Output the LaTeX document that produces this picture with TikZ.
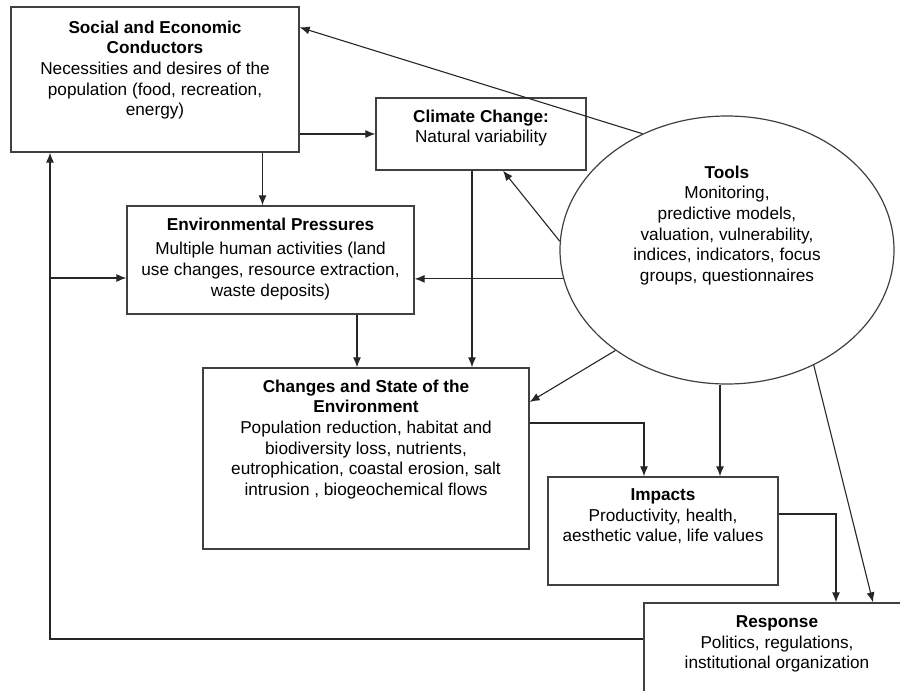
\documentclass[tikz,border=0pt]{standalone}
\usepackage{fontspec}
\setmainfont{Liberation Sans}
\usetikzlibrary{arrows.meta,shapes.geometric}

\begin{document}
\begin{tikzpicture}[
      x=1pt, y=-1pt,
      >={Latex[length=10pt,width=8pt]},
      box/.style={rectangle, draw=black!75, line width=1.3pt, inner sep=0pt},
      tool/.style={ellipse, draw=black!75, line width=1.2pt, inner sep=0pt},
      txt/.style={anchor=north, align=center, inner sep=0pt, font=\fontsize{17.2}{20.7}\selectfont},
      link/.style={->, draw=black!85, line width=1.1pt}
    ]
      \useasboundingbox (0,0) rectangle (900,691);
      \clip (0,0) rectangle (900,691);

      % Social and Economic Conductors
      \node[box, minimum width=288, minimum height=145] (social) at (155,79.5) {};
      \node[txt] (social_txt) at ([yshift=-14pt]social.north) {\textbf{Social and Economic}\\\textbf{Conductors}\\Necessities and desires of the\\population (food, recreation,\\energy)};

      % Climate Change
      \node[box, minimum width=210, minimum height=72] (climate) at (481,134) {};
      \node[txt] (climate_txt) at ([yshift=-12pt]climate.north) {\textbf{Climate Change:}\\Natural variability};

      % Environmental Pressures
      \node[box, minimum width=287, minimum height=108] (env_press) at (270.5,260) {};
      \node[txt] (env_press_txt) at ([yshift=-12pt]env_press.north) {\textbf{Environmental Pressures}\\[4pt]Multiple human activities (land\\use changes, resource extraction,\\waste deposits)};

      % Changes and State of the Environment
      \node[box, minimum width=326, minimum height=181] (changes) at (366,458.5) {};
      \node[txt] (changes_txt) at ([yshift=-12pt]changes.north) {\textbf{Changes and State of the}\\\textbf{Environment}\\Population reduction, habitat and\\biodiversity loss, nutrients,\\eutrophication, coastal erosion, salt\\intrusion , biogeochemical flows};

      % Impacts
      \node[box, minimum width=230, minimum height=108] (impacts) at (663,531) {};
      \node[txt] (impacts_txt) at ([yshift=-12pt]impacts.north) {\textbf{Impacts}\\Productivity, health,\\aesthetic value, life values};

      % Response
      \node[box, minimum width=266, minimum height=97] (response) at (777,651.5) {};
      \node[txt] (response_txt) at ([yshift=-13pt]response.north) {\textbf{Response}\\Politics, regulations,\\institutional organization};

      % Tools
      \node[tool, minimum width=334, minimum height=268] (tools) at (727,250) {};
      \node[txt] (tools_txt) at ([yshift=-50pt]tools.north) {\textbf{Tools}\\Monitoring,\\predictive models,\\valuation, vulnerability,\\indices, indicators, focus\\groups, questionnaires};

      % Connectors
      \coordinate (soc_env) at ([xshift=-8pt]env_press.north);
      \coordinate (env_chg) at ([xshift=-9pt]changes.north);
      \coordinate (clim_chg) at ([xshift=-9pt]climate.south);
      \coordinate (tool_imp) at ([xshift=57pt]impacts.north);
      \coordinate (env_in) at ([yshift=-18pt]env_press.west);
      \coordinate (back) at ([xshift=-105pt]social.south);

      \draw[link] (social.east |- climate.west) -- (climate.west);
      \draw[link] (soc_env |- social.south) -- (soc_env);
      \draw[link] (env_chg |- env_press.south) -- (env_chg);
      \draw[link] (clim_chg) -- (clim_chg |- changes.north);
      \draw[link] ([yshift=35.5pt]changes.east) -| ([xshift=-19pt]impacts.north);
      \draw[link] ([yshift=17pt]impacts.east) -| ([xshift=59pt]response.north);

      \draw[link] (tools.126) -- ([yshift=-21pt]social.north east);
      \draw[link] (tools.177) -- ([xshift=22pt]climate.south);
      \draw[link] (tools.190) -- (tools.190 -| env_press.east);
      \draw[link] (tools.222) -- ([yshift=56.5pt]changes.east);
      \draw[link] (tool_imp |- tools.south) -- (tool_imp);
      \draw[link] (tools.307) -- ([xshift=96pt]response.north);

      \draw[link] ([yshift=12.5pt]response.west) -| (back);
      \draw[link] (back |- env_in) -- (env_in);
    \end{tikzpicture}
\end{document}
